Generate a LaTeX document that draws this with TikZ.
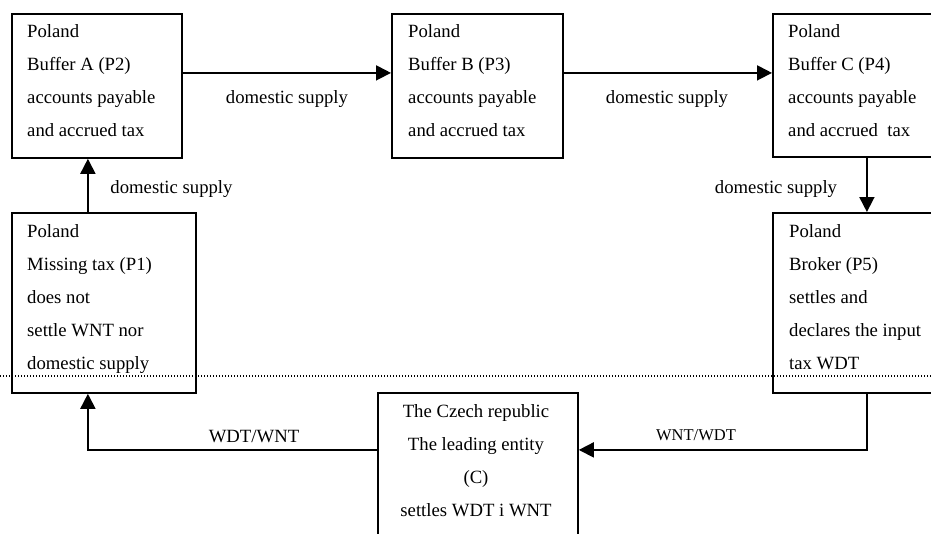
\documentclass[tikz,border=0pt]{standalone}
\usepackage{fontspec}
\setmainfont{Liberation Serif}
\usetikzlibrary{arrows.meta}
% stacked lines whose baseline is the baseline of the first line
\newcommand\leftlines[1]{\begin{tabular}[t]{@{}l@{}}#1\end{tabular}}
\newcommand\midlines[1]{\begin{tabular}[t]{@{}c@{}}#1\end{tabular}}
\begin{document}
\begin{tikzpicture}[x=1pt,y=-1pt,
  entity/.style={draw, line width=1.8pt, anchor=north west, inner sep=0pt},
  body/.style={font=\fontsize{18.7}{33}\selectfont, inner sep=0pt, anchor=base west},
  flow/.style={line width=1.8pt, -{Triangle[length=15pt,width=15pt]}},
  lbl/.style={font=\fontsize{18.7}{22}\selectfont, inner sep=0pt, anchor=base},
  smalllbl/.style={font=\fontsize{16.5}{20}\selectfont, inner sep=0pt, anchor=base},
  border/.style={line width=1.1pt, dash pattern=on 1.2pt off 1.8pt}]
\useasboundingbox (0,0) rectangle (931,533);
\clip (0,0) rectangle (931,533);

% entity frames
\node[entity, minimum width=170pt, minimum height=144pt] (p2) at (11,13) {};
\node[entity, minimum width=171pt, minimum height=144pt] (p3) at (391,13) {};
\node[entity, minimum width=170pt, minimum height=143pt] (p4) at (772,13) {};
\node[entity, minimum width=184pt, minimum height=180pt] (p1) at (11,212) {};
\node[entity, minimum width=170pt, minimum height=180pt] (p5) at (772,212) {};
\node[entity, minimum width=200pt, minimum height=170pt] (c) at (377,392) {};

% entity descriptions
\node[body] (p2t) at (27,37) {\leftlines{Poland\\Buffer A (P2)\\accounts payable\\and accrued tax}};
\node[body] (p3t) at (408,37) {\leftlines{Poland\\Buffer B (P3)\\accounts payable\\and accrued tax}};
\node[body] (p4t) at (788,37) {\leftlines{Poland\\Buffer C (P4)\\accounts payable\\and accrued~ tax}};
\node[body] (p1t) at (27,237) {\leftlines{Poland\\Missing tax (P1)\\does not\\settle WNT nor\\domestic supply}};
\node[body] (p5t) at (789,237) {\leftlines{Poland\\Broker (P5)\\settles and\\declares the input\\tax WDT}};
\node[body, anchor=base] (ct) at (476,417) {\midlines{The Czech republic\\The leading entity\\(C)\\settles WDT i WNT}};

% country border
\draw[border] (0,376) -- (931,376);

% supply chain
\draw[flow] ([xshift=-16pt]p1.north) -- ([xshift=-16pt]p1.north |- p2.south);
\draw[flow] ([yshift=13pt]p2.east) -- ([yshift=13pt]p2.east -| p3.west);
\draw[flow] ([yshift=13pt]p3.east) -- ([yshift=13pt]p3.east -| p4.west);
\draw[flow] ([xshift=9pt]p4.south) -- ([xshift=9pt]p4.south |- p5.north);
\draw[flow] ([xshift=9pt]p5.south) |- ([yshift=28pt]c.east);
\draw[flow] ([yshift=28pt]c.west) -| ([xshift=-16pt]p1.south);

% flow labels
\node[lbl] (l12) at (171.5,193) {domestic supply};
\node[lbl] (l23) at (287,103) {domestic supply};
\node[lbl] (l34) at (667,103) {domestic supply};
\node[lbl] (l45) at (776,193) {domestic supply};
\node[smalllbl] (l5c) at (696,440) {WNT/WDT};
\node[lbl] (lc1) at (254,442) {WDT/WNT};
\end{tikzpicture}
\end{document}
